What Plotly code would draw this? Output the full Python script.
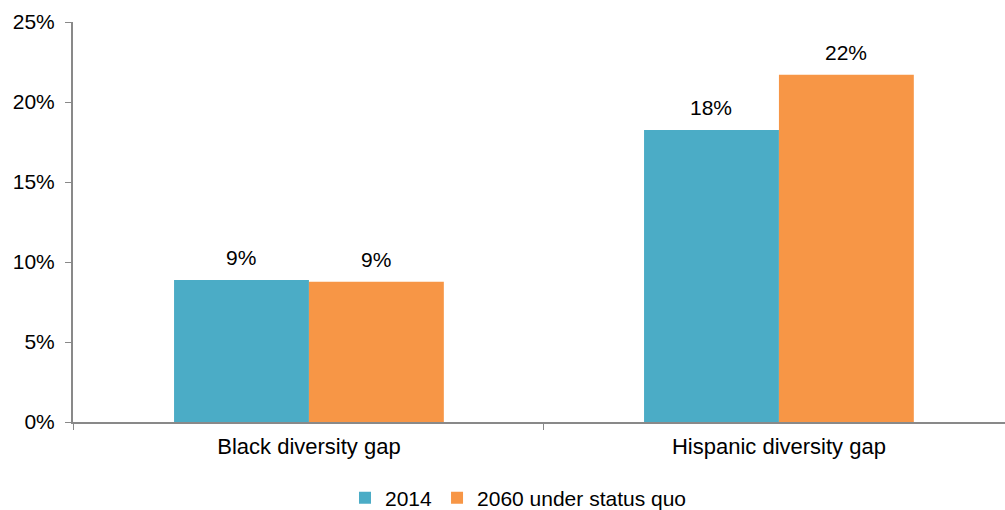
import plotly.graph_objects as go

categories = ["Black diversity gap", "Hispanic diversity gap"]
series_names = ["2014", "2060 under status quo"]
values_2014 = [8.87, 18.25]
values_2060 = [8.77, 21.7]
colors = ["#4BACC6", "#F79646"]
y_ticks = [0, 5, 10, 15, 20, 25]

FONT = "Liberation Sans, Arial, sans-serif"
FS = 21

fig = go.Figure()
for i, (name, vals, col) in enumerate(zip(series_names, [values_2014, values_2060], colors)):
    fig.add_trace(go.Bar(
        x=categories, y=vals, name=name, marker=dict(color=col, line=dict(width=0)),
        offsetgroup=str(i),
    ))
    for j, (c, v) in enumerate(zip(categories, vals)):
        fig.add_annotation(
            x=c, y=v, text=f"{v:.0f}%", showarrow=False,
            xref="x", yref="y", yanchor="bottom",
            xshift=(-1 if i == 0 else 1) * 67.5, yshift=9,
            font=dict(size=FS, color="#000000", family=FONT),
        )

fig.update_layout(
    width=1005, height=510,
    margin=dict(l=73, r=0, t=22, b=88, autoexpand=False),
    paper_bgcolor="white", plot_bgcolor="white",
    barmode="group", bargap=0.426, bargroupgap=0,
    font=dict(family=FONT, size=FS, color="#000000"),
    showlegend=True,
    legend=dict(orientation="h", x=0.478, xanchor="center", y=-0.19, yanchor="middle",
                font=dict(size=FS), itemwidth=30, traceorder="normal"),
    xaxis=dict(showline=True, linecolor="#898989", linewidth=2, automargin=False,
               range=[-0.502, 1.481],
               ticks="outside", tickson="boundaries", ticklen=6, tickcolor="#898989",
               tickfont=dict(size=22), showgrid=False, ticklabelstandoff=4),
    yaxis=dict(range=[0, 25], tickvals=y_ticks, ticktext=[f"{t}%" for t in y_ticks],
               showline=True, linecolor="#898989", linewidth=2, automargin=False,
               ticks="outside", ticklen=6, tickcolor="#898989",
               tickfont=dict(size=FS), showgrid=False, zeroline=False,
               ticklabelstandoff=6),
)
fig.write_html("out.html", post_script="document.body.style.margin='0';",
               config={"displayModeBar": False})
